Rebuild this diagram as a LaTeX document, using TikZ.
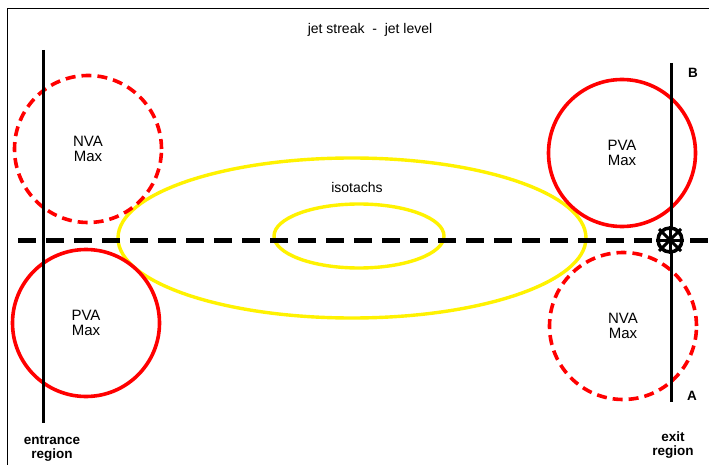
\documentclass[tikz,border=0pt]{standalone}
\usepackage{fontspec}
\setmainfont{Liberation Sans}
\usetikzlibrary{shapes.geometric}
\tikzset{
  solidcirc/.style={circle, draw=red, line width=3.6pt, minimum size=147pt, inner sep=0pt, align=center, font=\fontsize{15}{15}\selectfont},
  dashcirc/.style={solidcirc, dash pattern=on 10pt off 6pt},
  iso/.style={ellipse, draw=yellow, line width=3.4pt, inner sep=0pt},
  axis/.style={line width=3pt, black},
  jet/.style={line width=5pt, dash pattern=on 18pt off 10pt},
  lbl/.style={font=\fontsize{14}{15}\selectfont, align=center},
  blbl/.style={font=\bfseries\fontsize{13.5}{14}\selectfont, align=center}
}
\begin{document}
\begin{tikzpicture}[x=1pt,y=-1pt]
\useasboundingbox (0,0) rectangle (709,465);
\fill[white] (0,0) rectangle (709,465);
% frame
\draw[line width=1pt] (7,470) -- (7,9) -- (715,9);
% title
\node[lbl] (title) at (370,30) {jet streak \ -\ \ jet level};
% isotachs
\node[iso, minimum width=468pt, minimum height=160pt] (big) at (352,238) {};
\node[iso, minimum width=170pt, minimum height=64pt] (small) at (359,236) {};
\node[lbl] (isotxt) at (357,187) {isotachs};
% circles
\node[dashcirc] (nvaL) at (88,149) {NVA\\Max};
\node[solidcirc] (pvaL) at (86,323) {PVA\\Max};
\node[solidcirc] (pvaR) at (622,153) {PVA\\Max};
\node[dashcirc] (nvaR) at (623,326) {NVA\\Max};
% jet axis
\coordinate (jl) at (18,240);
\coordinate (jr) at (712,240);
\draw[jet] (jl) -- (jr);
% cross sections
\coordinate (e1) at (43,50);
\coordinate (e2) at (43,423);
\coordinate (x1) at (671,63);
\coordinate (x2) at (671,402);
\draw[axis] (e1) -- (e2);
\draw[axis] (x1) -- (x2);
% jet max symbol
\node[circle, draw, line width=3.5pt, minimum size=24pt, inner sep=0pt, fill=white] (jmax) at (670,240) {};
\draw[line width=3pt] (jmax.center) ++(-11,-11) -- ++(22,22);
\draw[line width=3pt] (jmax.center) ++(-11,11) -- ++(22,-22);
\draw[line width=3pt] (jmax.center) ++(-14,0) -- ++(28,0);
\draw[line width=3pt] (jmax.center) ++(0,-14) -- ++(0,28);
% labels
\node[blbl] (B) at (693,73) {B};
\node[blbl] (A) at (692,396) {A};
\node[blbl] (ent) at (52,449) {entrance\\region};
\node[blbl] (ext) at (673,445) {exit\\region};
\end{tikzpicture}
\end{document}
